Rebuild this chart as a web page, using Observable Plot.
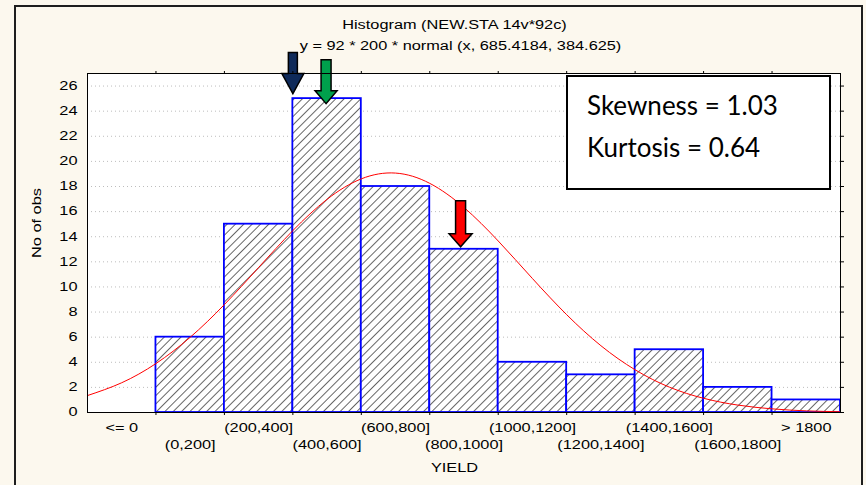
<!DOCTYPE html>
<html><head><meta charset="utf-8">
<script src="https://cdn.jsdelivr.net/npm/d3@7"></script>
<script src="https://cdn.jsdelivr.net/npm/@observablehq/plot@0.6"></script>
<style>
html,body{margin:0;padding:0;background:#fcf8ee;}
#wrap{position:relative;width:866px;height:485px;overflow:hidden;background:#fcf8ee;}
#border{position:absolute;left:14px;top:5px;width:849px;height:600px;border:2px solid #1e1e1e;box-sizing:border-box;}
#chart{position:absolute;left:0;top:0;}
#stats{position:absolute;left:566px;top:75px;width:265px;height:115px;border:2px solid #000;background:#fff;box-sizing:border-box;padding:7px 0 0 19px;font-family:Lato,"Open Sans",sans-serif;font-size:26px;line-height:42px;color:#000;}
</style></head>
<body><div id="wrap"><div id="border"></div><div id="chart"></div><div id="stats"><div>Skewness = 1.03</div><div>Kurtosis = 0.64</div></div></div>
<script>
// ---- data ----
const categories = ["<= 0","(0,200]","(200,400]","(400,600]","(600,800]","(800,1000]","(1000,1200]","(1200,1400]","(1400,1600]","(1600,1800]","> 1800"];
const counts = [0, 6, 15, 25, 18, 13, 4, 3, 5, 2, 1];
const binLow  = [-200, 0, 200, 400, 600, 800, 1000, 1200, 1400, 1600, 1800];
const binHigh = [0, 200, 400, 600, 800, 1000, 1200, 1400, 1600, 1800, 2000];
const yTicks = [0, 2, 4, 6, 8, 10, 12, 14, 16, 18, 20, 22, 24, 26];
const curveX = [-200,-100,0,100,200,300,400,500,600,700,800,900,1000,1100,1200,1300,1400,1500,1600,1700,1800,1900,2000];
const curveY = [1.35,2.37,3.90,5.99,8.60,11.55,14.49,16.98,18.61,19.07,18.25,16.33,13.66,10.67,7.79,5.32,3.40,2.02,1.13,0.59,0.29,0.13,0.06];
const arrowX = [400, 497, 890];
const arrowTip = [25.4, 24.6, 13.2];
const arrowColor = ["#0f2a5a", "#00a04c", "#ff0000"];
const titleText = "Histogram (NEW.STA 14v*92c)";
const subtitleText = "y = 92 * 200 * normal (x, 685.4184, 384.625)";
const xLabel = "YIELD";
const yLabel = "No of obs";

// ---- build ----
const bins = categories.map((c, i) => ({label: c, count: counts[i], lo: binLow[i], hi: binHigh[i], mid: (binLow[i] + binHigh[i]) / 2, row: i % 2}));
const edges = binHigh.slice(0, -1);
const curve = curveX.map((x, i) => ({x, y: curveY[i]}));
const arrows = arrowX.map((x, i) => ({x, tip: arrowTip[i], color: arrowColor[i]}));

function arrowSymbol(L, hh, hw, sw) {
  return {draw(ctx) {
    ctx.moveTo(0, 0); ctx.lineTo(-hw, -hh); ctx.lineTo(-sw, -hh); ctx.lineTo(-sw, -L);
    ctx.lineTo(sw, -L); ctx.lineTo(sw, -hh); ctx.lineTo(hw, -hh); ctx.closePath();
  }};
}
const shapes = [arrowSymbol(41, 20, 11, 4.5), arrowSymbol(44, 13, 11, 5), arrowSymbol(46, 13, 11.5, 5)];

const chart = Plot.plot({
  width: 866, height: 485,
  marginLeft: 87, marginRight: 26, marginTop: 73, marginBottom: 73,
  x: {domain: [-200, 2000], label: null},
  y: {domain: [0, 27], label: null},
  style: {background: "transparent", fontFamily: "'Liberation Sans', Arial, sans-serif", fontSize: "12px", color: "#000"},
  marks: [
    Plot.frame({fill: "white", stroke: null}),
    Plot.ruleY(yTicks.filter(d => d > 0), {stroke: "#bdbdbd", strokeDasharray: "1,3"}),
    Plot.rect(bins, {x1: "lo", x2: "hi", y1: 0, y2: "count", fill: "url(#hatch)", stroke: "#0000ff", strokeWidth: 1.8}),
    Plot.line(curve, {x: "x", y: "y", stroke: "red", strokeWidth: 1, curve: "natural"}),
    ...arrows.map((a, i) => Plot.dot([a], {x: "x", y: "tip", symbol: shapes[i], r: 5, fill: a.color, stroke: "black", strokeWidth: 1.5})),
    Plot.axisY({ticks: yTicks, tickSize: 0, tickPadding: 10, label: null}),
    Plot.axisY({anchor: "right", ticks: yTicks, tickSize: 3, tickFormat: () => "", label: null}),
    Plot.axisX({anchor: "top", ticks: edges, tickSize: 3, tickFormat: () => "", label: null}),
    Plot.axisX({anchor: "bottom", ticks: edges, tickSize: 3, tickFormat: () => "", label: null}),
    Plot.text(bins.filter(d => d.row === 0), {x: "mid", text: "label", frameAnchor: "bottom", dy: 16, lineAnchor: "middle"}),
    Plot.text(bins.filter(d => d.row === 1), {x: "mid", text: "label", frameAnchor: "bottom", dy: 33, lineAnchor: "middle"}),
    Plot.text([xLabel], {text: d => d, frameAnchor: "bottom", dx: -9.5, dy: 56, lineAnchor: "middle"}),
    Plot.text([yLabel], {text: d => d, frameAnchor: "left", dx: -50, dy: 15, rotate: -90, lineAnchor: "middle"}),
    Plot.text([titleText], {text: d => d, frameAnchor: "top", dx: -9.5, dy: -48, lineAnchor: "middle"}),
    Plot.text([subtitleText], {text: d => d, frameAnchor: "top", dx: -3.5, dy: -27, lineAnchor: "middle"}),
    Plot.frame({stroke: "black", strokeWidth: 1})
  ]
});

// hatch pattern
const svg = d3.select(chart);
const defs = svg.insert("defs", ":first-child");
defs.append("pattern").attr("id", "hatch").attr("patternUnits", "userSpaceOnUse")
  .attr("width", 5.9).attr("height", 10).attr("patternTransform", "rotate(45)")
  .call(p => p.append("rect").attr("width", 5.9).attr("height", 10).attr("fill", "white"))
  .append("line").attr("x1", 0.5).attr("y1", 0).attr("x2", 0.5).attr("y2", 10)
  .attr("stroke", "#555").attr("stroke-width", 0.9);

document.getElementById("chart").appendChild(chart);

// horizontally stretched glyphs like the original
chart.querySelectorAll("text").forEach(t => {
  const w = t.getComputedTextLength();
  if (w > 0) { t.setAttribute("textLength", (w * 1.36).toFixed(1)); t.setAttribute("lengthAdjust", "spacingAndGlyphs"); }
});
</script>
</body></html>
